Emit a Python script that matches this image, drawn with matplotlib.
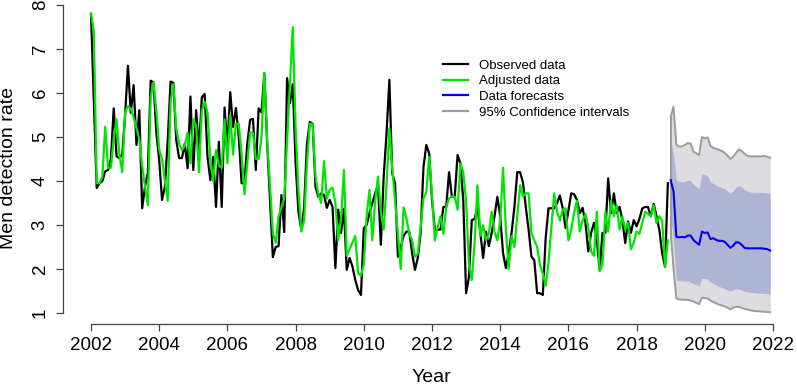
import numpy as np
import matplotlib
matplotlib.use("Agg")
import matplotlib.pyplot as plt
from matplotlib.lines import Line2D

plt.rcParams['font.family'] = ['Liberation Sans', 'DejaVu Sans']

# ---------------- data ----------------
start_year = 2002
forecast_start = 2019

observed = [
    7.8, 5.8, 3.84, 3.95, 4.0, 4.22, 4.25, 4.5, 5.65, 4.56, 4.52, 4.6,
    5.5, 6.62, 5.55, 6.18, 4.82, 5.61, 3.38, 3.87, 4.18, 6.28, 6.24, 5.09,
    4.48, 3.57, 3.87, 4.93, 6.26, 6.23, 4.93, 4.52, 4.52, 4.85, 4.29, 5.92,
    4.25, 5.61, 4.7, 5.9, 5.98, 4.55, 4.02, 4.55, 3.41, 4.89, 3.41, 5.67,
    4.8, 6.02, 5.23, 5.66, 5.0, 3.95, 3.95, 4.85, 5.39, 5.41, 4.25, 5.65,
    5.56, 6.45, 4.85, 3.57, 2.27, 2.5, 2.52, 3.68, 2.84, 6.34, 5.77, 6.2,
    4.4, 3.3, 2.89, 3.41, 4.85, 5.34, 5.3, 3.86, 3.64, 3.72, 3.68, 3.39,
    3.57, 3.41, 2.02, 3.35, 2.82, 3.37, 1.98, 2.25, 2.06, 1.75, 1.52, 1.41,
    2.93, 3.0, 3.27, 3.5, 3.72, 3.91, 2.55, 4.1, 5.08, 6.3, 4.17, 3.95,
    2.28, 2.5, 2.75, 2.85, 2.85, 2.36, 1.98, 2.25, 2.82, 4.32, 4.82, 4.63,
    3.57, 2.89, 2.89, 2.9, 3.41, 3.41, 4.2, 3.64, 3.64, 4.59, 4.4, 3.57,
    1.45, 1.82, 3.11, 3.14, 3.41, 2.82, 2.25, 2.85, 2.52, 2.82, 3.2, 3.64,
    3.2, 2.36, 2.02, 2.36, 2.82, 3.41, 4.2, 4.2, 3.97, 3.41, 2.89, 2.28,
    2.2, 1.45, 1.45, 1.41, 2.7, 3.38, 3.38, 3.38, 3.5, 3.67, 3.38, 2.93,
    3.32, 3.72, 3.7, 3.57, 3.27, 3.39, 3.05, 2.4, 2.82, 3.05, 2.67, 1.98,
    2.82, 2.82, 4.06, 3.27, 3.72, 3.27, 3.41, 3.11, 2.59, 3.08, 2.82, 3.11,
    2.97, 3.14, 3.38, 3.41, 3.41, 3.2, 3.48, 3.2, 2.89, 2.36, 2.05, 3.95,
]

adjusted = [
    7.8, 7.4, 3.95, 3.95, 4.1, 5.23, 4.3, 4.3, 4.98, 5.4, 4.6, 4.2,
    5.56, 5.7, 5.65, 5.45, 5.2, 4.95, 4.35, 3.88, 3.45, 5.9, 6.24, 5.6,
    4.7, 4.5, 4.0, 3.55, 5.8, 6.2, 5.2, 4.85, 4.7, 4.8, 5.1, 4.4,
    5.4, 5.25, 4.2, 5.6, 5.8, 5.55, 4.5, 4.0, 4.7, 4.35, 4.3, 5.4,
    4.4, 5.5, 4.6, 5.3, 5.3, 4.6, 3.7, 4.4, 5.1, 5.1, 4.5, 4.5,
    5.0, 6.45, 4.9, 3.9, 2.8, 2.6, 3.2, 3.4, 3.6, 4.9, 6.2, 7.5,
    5.2, 3.8, 2.85, 3.1, 4.4, 5.3, 5.3, 4.1, 3.7, 3.5, 4.45, 3.6,
    3.8, 3.85, 3.5, 2.65, 3.15, 4.25, 2.3, 2.45, 2.6, 2.75, 1.9, 1.85,
    2.1, 3.2, 3.8, 2.65, 3.55, 4.1, 3.3, 2.9, 3.9, 5.2, 4.3, 3.55,
    2.8, 2.0, 3.4, 3.15, 2.8, 2.65, 2.28, 2.35, 2.95, 3.6, 3.75, 4.55,
    3.7, 2.65, 2.95, 3.2, 2.8, 3.4, 3.6, 3.65, 3.64, 3.35, 4.4, 4.2,
    3.55, 2.1, 1.75, 2.6, 3.9, 2.75, 3.0, 2.65, 2.8, 3.3, 2.85, 2.65,
    3.1, 4.3, 2.9, 2.0, 2.75, 2.5, 3.2, 3.9, 3.65, 3.72, 3.72, 2.82,
    2.65, 2.5, 2.1, 1.9, 1.62, 2.15, 2.95, 3.72, 3.3, 3.1, 3.35, 3.38,
    2.65, 2.9, 3.27, 3.55, 2.85, 3.1, 3.25, 2.95, 2.4, 2.3, 3.3, 1.95,
    2.1, 3.3, 2.85, 3.55, 3.2, 3.45, 2.9, 3.2, 2.9, 3.05, 2.45, 2.6,
    2.85, 2.8, 3.05, 3.3, 3.25, 3.2, 3.45, 3.05, 3.2, 3.1, 2.05, 2.65,
]

forecast = [
    4.02, 3.76, 2.73, 2.72, 2.73, 2.72, 2.76, 2.76, 2.66, 2.6, 2.55, 2.85,
    2.82, 2.83, 2.68, 2.7, 2.66, 2.64, 2.64, 2.62, 2.55, 2.48, 2.53, 2.61,
    2.6, 2.55, 2.48, 2.47, 2.47, 2.47, 2.47, 2.47, 2.47, 2.46, 2.45, 2.42,
]
upper95 = [
    5.46, 5.69, 4.82, 4.78, 4.79, 4.82, 4.86, 4.85, 4.67, 4.63, 4.59, 5.0,
    4.97, 4.99, 4.8, 4.75, 4.73, 4.71, 4.68, 4.64, 4.58, 4.5, 4.55, 4.64,
    4.72, 4.68, 4.62, 4.57, 4.56, 4.56, 4.56, 4.56, 4.56, 4.57, 4.55, 4.53,
]
lower95 = [
    2.85, 2.0, 1.33, 1.31, 1.3, 1.3, 1.3, 1.28, 1.26, 1.23, 1.2, 1.35,
    1.34, 1.33, 1.28, 1.25, 1.22, 1.19, 1.17, 1.15, 1.12, 1.08, 1.12, 1.14,
    1.14, 1.12, 1.09, 1.08, 1.06, 1.05, 1.04, 1.04, 1.03, 1.03, 1.02, 1.02,
]
upper80 = [
    4.93, 4.6, 4.02, 3.99, 3.98, 3.99, 4.02, 4.01, 3.92, 3.87, 3.83, 4.17,
    4.14, 4.12, 3.98, 3.94, 3.9, 3.87, 3.85, 3.83, 3.77, 3.72, 3.78, 3.86,
    3.9, 3.86, 3.8, 3.77, 3.75, 3.74, 3.74, 3.74, 3.74, 3.74, 3.73, 3.72,
]
lower80 = [
    3.2, 2.6, 1.75, 1.74, 1.73, 1.73, 1.72, 1.7, 1.67, 1.64, 1.61, 1.79,
    1.78, 1.77, 1.7, 1.67, 1.63, 1.6, 1.58, 1.55, 1.52, 1.5, 1.53, 1.55,
    1.54, 1.52, 1.49, 1.48, 1.47, 1.46, 1.46, 1.45, 1.45, 1.44, 1.44, 1.43,
]

x_ticks = list(range(2002, 2023, 2))
y_ticks = [1, 2, 3, 4, 5, 6, 7, 8]
legend_labels = ["Observed data", "Adjusted data", "Data forecasts", "95% Confidence intervals"]

t_obs = start_year + np.arange(len(observed)) / 12.0
t_fc = forecast_start + np.arange(len(forecast)) / 12.0

# ---------------- figure ----------------
W, H = 797, 386
fig = plt.figure(figsize=(W / 100, H / 100), dpi=100)
ax = fig.add_axes([63 / W, (H - 324) / H, (W - 63) / W, 324 / H])
ax.set_xlim(2002 - 28 / 34.1, 2002 + (W - 91) / 34.1)
ax.set_ylim(1 - 11 / 44.0, 8 + 5 / 44.0)

light = '#dcdce1'
dark = '#b0b4d4'
ax.fill_between(t_fc, lower95, upper95, color=light, lw=0, zorder=1)
ax.fill_between(t_fc, lower80, upper80, color=dark, lw=0, zorder=2)
ax.plot(t_fc, upper95, color='#9c9c9c', lw=1.4, zorder=3)
ax.plot(t_fc, lower95, color='#9c9c9c', lw=1.4, zorder=3)
ax.plot([t_fc[0], t_fc[0]], [lower95[0], upper95[0]], color='#9c9c9c', lw=1.4, zorder=3)

ax.plot(t_obs, observed, color='black', lw=1.6, zorder=4)
ax.plot(t_obs, adjusted, color='#00e600', lw=1.6, zorder=5)
ax.plot(t_fc, forecast, color='#0000ee', lw=1.5, zorder=6)

for s in ['top', 'right']:
    ax.spines[s].set_visible(False)
ax.spines['left'].set_bounds(1, 8)
ax.spines['bottom'].set_bounds(2002, 2022)
for s in ['left', 'bottom']:
    ax.spines[s].set_color('#444444')
    ax.spines[s].set_linewidth(0.9)

ax.set_xticks(x_ticks)
ax.set_xticklabels([str(v) for v in x_ticks])
ax.set_yticks(y_ticks)
ax.set_yticklabels([str(v) for v in y_ticks], rotation=90, va='center')
ax.tick_params(axis='both', direction='out', length=5.2, width=0.9, color='#444444',
               labelsize=13.5, labelcolor='black')
ax.tick_params(axis='x', pad=4.5)
ax.tick_params(axis='y', pad=5)

fig.text(9 / W, (H - 168) / H, "Men detection rate", rotation=90, ha='center', va='center',
         fontsize=14)
fig.text(431 / W, (H - 378) / H, "Year", ha='center', va='center', fontsize=14)

handles = [Line2D([], [], color='black', lw=1.6),
           Line2D([], [], color='#00e600', lw=1.6),
           Line2D([], [], color='#0000ee', lw=1.6),
           Line2D([], [], color='#9c9c9c', lw=1.6)]
ax.legend(handles, legend_labels, loc='upper left',
          bbox_to_anchor=(443 / W, (H - 59.5) / H), bbox_transform=fig.transFigure,
          frameon=False, fontsize=9.5, handlelength=1.9, handletextpad=0.85,
          labelspacing=0.26, borderpad=0, borderaxespad=0)

fig.savefig("out.png", dpi=100)
